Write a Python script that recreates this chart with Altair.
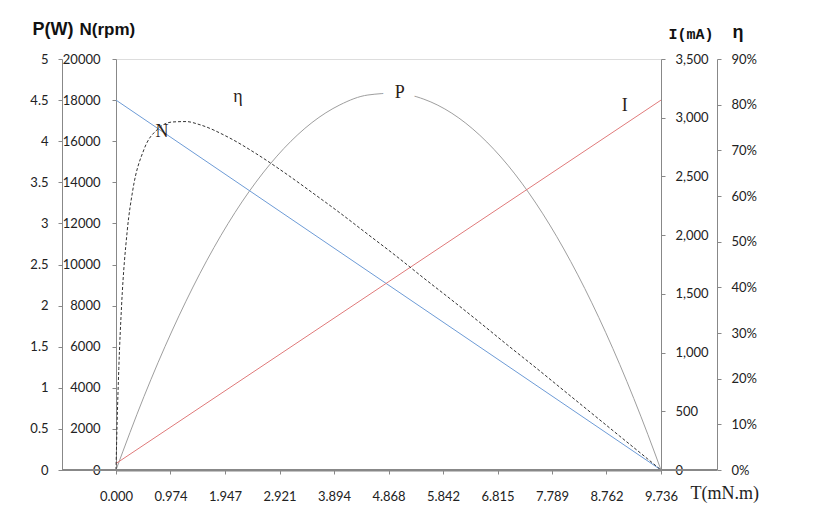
import altair as alt
import pandas as pd

# ---- data ----
x_ticks = [0, 0.9736, 1.9472, 2.9208, 3.8944, 4.868, 5.8416, 6.8152, 7.7888, 8.7624, 9.736]

line_T = [0, 9.736]
N_rpm = [18000, 0]
I_mA = [55, 3150]

P_T = [0, 0.5, 1.0, 1.5, 2.0, 2.5, 3.0, 3.5, 4.0, 4.5, 5.0, 5.5, 6.0, 6.5, 7.0,
       7.5, 8.0, 8.5, 9.0, 9.5, 9.736]
P_W = [0, 0.894, 1.691, 2.392, 2.996, 3.502, 3.912, 4.226, 4.442, 4.562, 4.585,
       4.511, 4.340, 4.072, 3.708, 3.247, 2.689, 2.034, 1.282, 0.434, 0]

eta_T = [0, 0.01, 0.02, 0.05, 0.1, 0.2, 0.3, 0.5, 0.75, 1.0, 1.25, 1.5, 2.0, 2.5,
         3.0, 3.5, 4.0, 4.5, 5.0, 5.5, 6.0, 6.5, 7.0, 7.5, 8.0, 8.5, 9.0, 9.5, 9.736]
eta = [0, 0.054, 0.103, 0.222, 0.361, 0.523, 0.613, 0.702, 0.747, 0.762, 0.763,
       0.756, 0.729, 0.693, 0.652, 0.608, 0.563, 0.516, 0.469, 0.420, 0.372,
       0.323, 0.273, 0.224, 0.174, 0.124, 0.074, 0.024, 0]

# curve labels: (T, value)
lab_P = ([5.07], [4.586], ["P"])
lab_N = ([0.82], [16450], ["N"])
lab_I = ([9.09], [3100], ["I"])
lab_eta = ([2.18], [0.817], ["η"])

# ---- styles ----
LABEL_FONT = "Lato"
SERIF = "Liberation Serif"
AX = dict(labelFont=LABEL_FONT, labelFontSize=13, labelColor="#222",
          domainColor="#888", tickColor="#888", grid=False, tickSize=4,
          titleAngle=0, titleAlign="left", titleBaseline="alphabetic",
          titleColor="#111")

x_enc = alt.X("T:Q", scale=alt.Scale(domain=[0, 9.736], nice=False, zero=False),
              axis=alt.Axis(values=x_ticks, format=".3f", title="T(mN.m)",
                            labelFont=LABEL_FONT, labelFontSize=13, labelColor="#222",
                            labelFlush=False, labelOverlap=False,
                            domainColor="#888", domainWidth=2, tickColor="#888",
                            tickSize=4, labelPadding=16, grid=False,
                            titleFont=SERIF, titleFontSize=18, titleFontWeight="normal",
                            titleAlign="left", titleBaseline="alphabetic",
                            titleX=574, titleY=28, titleColor="#222"))

def ydef(field, domain, axis):
    return alt.Y(f"{field}:Q", scale=alt.Scale(domain=domain, nice=False), axis=axis)

yP = ydef("v", [0, 5], alt.Axis(orient="left", offset=54, values=[i * 0.5 for i in range(11)],
                                 format="~g", labelPadding=10, title="P(W)",
                                 titleFont="Liberation Sans", titleFontSize=18,
                                 titleFontWeight="bold", titleX=-30, titleY=-25, **AX))
yN = ydef("v", [0, 20000], alt.Axis(orient="left", offset=0, values=list(range(0, 20001, 2000)),
                                     format="d", labelPadding=12, title="N(rpm)",
                                     titleFont="Liberation Sans", titleFontSize=17,
                                     titleFontWeight="bold", titleX=-37, titleY=-25, **AX))
yI = ydef("v", [0, 3500], alt.Axis(orient="right", offset=0, values=list(range(0, 3501, 500)),
                                    format=",.0f", labelPadding=10, title="I(mA)",
                                    titleFont="Liberation Mono", titleFontSize=15,
                                    titleFontWeight="bold", titleX=7, titleY=-21, **AX))
yE = ydef("v", [0, 0.9], alt.Axis(orient="right", offset=56, values=[i / 10 for i in range(10)],
                                   format=".0%", labelPadding=10, title="η",
                                   titleFont="Liberation Sans", titleFontSize=18,
                                   titleFontWeight="bold", titleX=15, titleY=-22, **AX))

def df(t, v):
    return pd.DataFrame({"T": t, "v": v})

def labdf(lab):
    return pd.DataFrame({"T": lab[0], "v": lab[1], "txt": lab[2]})

def text_layer(lab, y):
    return alt.Chart(labdf(lab)).mark_text(font=SERIF, fontSize=18, color="#2b2118",
                                           baseline="middle", align="center").encode(
        x=x_enc, y=y, text="txt:N")

# P layer
p_line = alt.Chart(df(P_T, P_W)).mark_line(color="#9e9e9e", strokeWidth=1,
                                            interpolate="monotone").encode(x=x_enc, y=yP)
p_halo = alt.Chart(labdf(lab_P)).mark_text(font=SERIF, fontSize=18, fill="white",
                                           stroke="white", strokeWidth=24,
                                           baseline="middle", align="center").encode(
    x=x_enc, y=yP, text="txt:N")
layer_P = alt.layer(p_line, p_halo, text_layer(lab_P, yP))

# N layer
n_line = alt.Chart(df(line_T, N_rpm)).mark_line(color="#6d9bd6", strokeWidth=1).encode(x=x_enc, y=yN)
layer_N = alt.layer(n_line, text_layer(lab_N, yN))

# I layer
i_line = alt.Chart(df(line_T, I_mA)).mark_line(color="#e07b7b", strokeWidth=1).encode(x=x_enc, y=yI)
layer_I = alt.layer(i_line, text_layer(lab_I, yI))

# eta layer
e_line = alt.Chart(df(eta_T, eta)).mark_line(color="#333", strokeWidth=1, strokeDash=[3, 2],
                                             interpolate="monotone").encode(x=x_enc, y=yE)
layer_E = alt.layer(e_line, text_layer(lab_eta, yE))

# extended base line from the P axis to the η axis
base = alt.Chart(pd.DataFrame({"a": [0]})).mark_rule(color="#888", strokeWidth=2).encode(
    x=alt.value(-54), x2=alt.value(601), y=alt.value(411))

chart = alt.layer(layer_P, layer_N, layer_I, layer_E, base).resolve_scale(
    y="independent"
).properties(
    width=545, height=411,
    autosize=alt.AutoSizeParams(type="none"),
    padding={"left": 108, "top": 51, "right": 100, "bottom": 40},
).configure_view(stroke=None).configure(background="white")

chart.save("out.html", embed_options={"renderer": "svg", "actions": False})
